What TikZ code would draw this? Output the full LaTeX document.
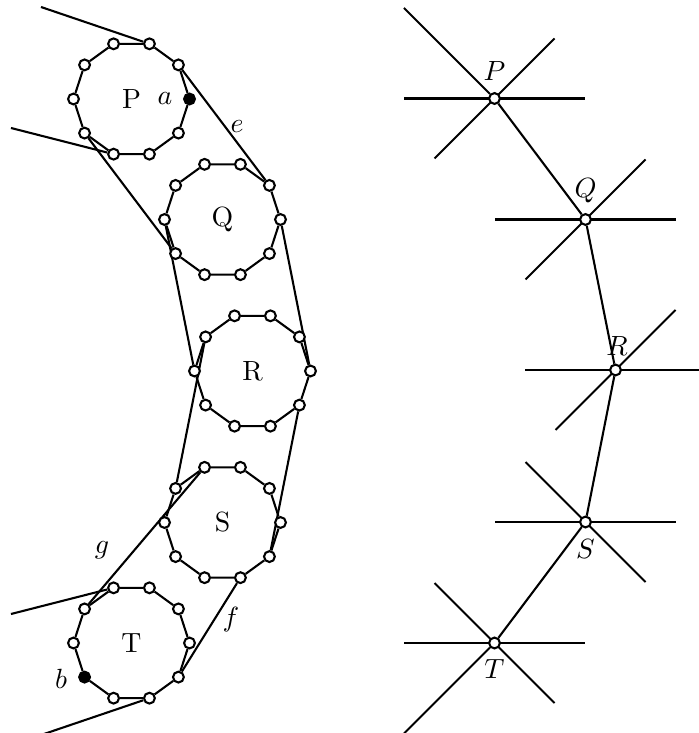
\documentclass[tikz,border=0pt]{standalone}
\usetikzlibrary{backgrounds}
\begin{document}
\begin{tikzpicture}[x=0.36pt,y=-0.36pt,
  edge/.style={line width=0.75pt},
  vtx/.style={circle,draw,fill=white,line width=0.75pt,minimum size=3.9pt,inner sep=0pt},
  dot P-0/.style={fill=black},
  dot T-6/.style={fill=black},
  lbl/.style={inner sep=0pt}]
\useasboundingbox (0,0) rectangle (698,733);
\clip (0,0) rectangle (698,733);

% ---- left: decagons with their vertices ----
\foreach \n/\cx/\cy in {P/131.5/99, Q/222.5/219.5, R/252.5/371, S/222.5/522.5, T/131.5/643} {
  \node[lbl] (\n) at (\cx,\cy) {\n};
  \foreach \k in {0,...,9}
    \node[vtx, dot \n-\k/.try] (\n-\k) at ({\cx+58*cos(36*\k)},{\cy-58*sin(36*\k)}) {};
}

% loose ends
\coordinate (Pup) at (41,7);
\coordinate (Plo) at (11,128);
\coordinate (Tup) at (11,614);
\coordinate (Tlo) at (41,735);

% edge labels
\node[lbl] (la) at (165,99) {$a$};
\node[lbl] (lb) at (61,679) {$b$};
\node[lbl] (le) at (237,127) {$e$};
\node[lbl] (lg) at (102,550) {$g$};
\node[lbl] (lf) at (231,620) {$f$};

% ---- right: contracted graph ----
\foreach \n/\cx/\cy in {P/494.5/98.5, Q/585.5/219.5, R/615.5/370, S/585.5/522, T/494.5/643} {
  \node[vtx] (s\n) at (\cx,\cy) {};
  \coordinate (s\n-w) at (\cx-90.5,\cy);
  \coordinate (s\n-e) at (\cx+90.5,\cy);
  \coordinate (s\n-nw) at (\cx-60,\cy-60);
  \coordinate (s\n-ne) at (\cx+60,\cy-60);
  \coordinate (s\n-sw) at (\cx-60,\cy+60);
  \coordinate (s\n-se) at (\cx+60,\cy+60);
}
\coordinate (sP-far) at (404,8);
\coordinate (sT-far) at (404,733.5);

\node[lbl] (lP) at (494.5,71) {$P$};
\node[lbl] (lQ) at (585.5,191) {$Q$};
\node[lbl] (lR) at (617,346) {$R$};
\node[lbl] (lS) at (585.5,549) {$S$};
\node[lbl] (lT) at (494.5,669) {$T$};

\begin{scope}[on background layer]
  % decagon outlines
  \foreach \n in {P,Q,R,S,T}
    \draw[edge] (\n-0) -- (\n-1) -- (\n-2) -- (\n-3) -- (\n-4) -- (\n-5)
      -- (\n-6) -- (\n-7) -- (\n-8) -- (\n-9) -- (\n-0);
  % connectors between decagons
  \draw[edge] (P-2) -- (Pup);
  \draw[edge] (P-7) -- (Plo);
  \draw[edge] (T-3) -- (Tup);
  \draw[edge] (T-8) -- (Tlo);
  \draw[edge] (P-1) -- (Q-1);
  \draw[edge] (P-6) -- (Q-6);
  \draw[edge] (Q-5) -- (R-5);
  \draw[edge] (Q-0) -- (R-0);
  \draw[edge] (R-4) -- (S-4);
  \draw[edge] (R-9) -- (S-9);
  \draw[edge] (T-4) -- (S-3);
  \draw[edge] (S-8) -- (T-9);

  % star arms
  \foreach \n in {P,Q,R,S,T}
    \draw[edge] (s\n-w) -- (s\n-e);
  \foreach \n in {P,Q,R}
    \draw[edge] (s\n-sw) -- (s\n-ne);
  \foreach \n in {S,T}
    \draw[edge] (s\n-nw) -- (s\n-se);
  \draw[edge] (sP) -- (sP-far);
  \draw[edge] (sT) -- (sT-far);
  % chain
  \draw[edge] (sP) -- (sQ) -- (sR) -- (sS) -- (sT);
\end{scope}
\end{tikzpicture}
\end{document}
